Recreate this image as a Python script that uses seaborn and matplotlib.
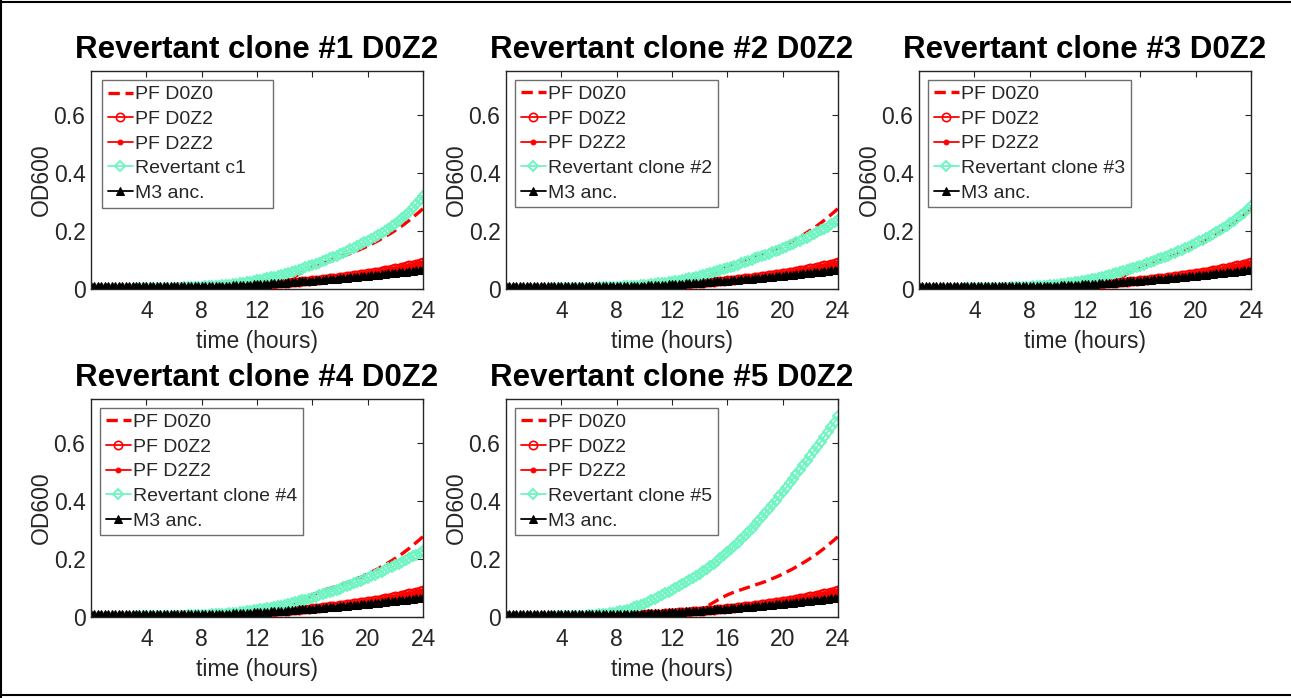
import numpy as np
import pandas as pd
import matplotlib
matplotlib.use("Agg")
import matplotlib.pyplot as plt
from matplotlib.lines import Line2D
import seaborn as sns

sns.set_style("white")
plt.rcParams['font.family'] = ['Liberation Sans', 'DejaVu Sans']

# time grid (hours), one reading every 15 minutes
time_h = np.arange(0, 24.001, 0.25)

pf_d0z0 = [0.003, 0.003, 0.003, 0.003, 0.003, 0.003, 0.003, 0.003, 0.003, 0.003, 0.003, 0.003, 0.003, 0.003, 0.003, 0.0032,
           0.0035, 0.0035, 0.0035, 0.0038, 0.004, 0.004, 0.004, 0.0042, 0.0045, 0.0045, 0.0045, 0.0048, 0.005, 0.0052, 0.0055, 0.0058,
           0.006, 0.0062, 0.0065, 0.0068, 0.007, 0.0072, 0.0075, 0.008, 0.0085, 0.009, 0.0095, 0.010, 0.0105, 0.0112, 0.012, 0.0128,
           0.0135, 0.0142, 0.015, 0.016, 0.017, 0.0185, 0.020, 0.023, 0.026, 0.031, 0.036, 0.043, 0.050, 0.057, 0.064, 0.070,
           0.076, 0.081, 0.086, 0.090, 0.094, 0.098, 0.102, 0.106, 0.110, 0.114, 0.118, 0.122, 0.127, 0.132, 0.137, 0.142,
           0.148, 0.154, 0.160, 0.166, 0.173, 0.180, 0.187, 0.194, 0.202, 0.210, 0.218, 0.227, 0.236, 0.246, 0.256, 0.266,
           0.277]
pf_d0z2 = [0.004, 0.004, 0.004, 0.004, 0.004, 0.004, 0.004, 0.004, 0.004, 0.004, 0.004, 0.004, 0.004, 0.004, 0.004, 0.004,
           0.0045, 0.0045, 0.0045, 0.0045, 0.0045, 0.0048, 0.005, 0.005, 0.005, 0.0052, 0.0055, 0.0055, 0.0055, 0.0058, 0.006, 0.0062,
           0.0065, 0.0068, 0.007, 0.0072, 0.0075, 0.0078, 0.008, 0.0085, 0.009, 0.0095, 0.010, 0.0105, 0.011, 0.0118, 0.0125, 0.0132,
           0.014, 0.0148, 0.0155, 0.0162, 0.017, 0.018, 0.019, 0.020, 0.021, 0.022, 0.023, 0.024, 0.025, 0.026, 0.0275, 0.0288,
           0.030, 0.0312, 0.0325, 0.0338, 0.035, 0.0365, 0.038, 0.0395, 0.041, 0.0425, 0.044, 0.0455, 0.047, 0.0488, 0.0505, 0.0522,
           0.054, 0.056, 0.058, 0.060, 0.062, 0.0642, 0.0665, 0.0688, 0.071, 0.0735, 0.076, 0.0785, 0.081, 0.084, 0.087, 0.090,
           0.093]
pf_d2z2 = [0.005, 0.005, 0.005, 0.005, 0.005, 0.005, 0.005, 0.005, 0.005, 0.005, 0.005, 0.005, 0.005, 0.005, 0.005, 0.005,
           0.005, 0.005, 0.005, 0.005, 0.0055, 0.0055, 0.0055, 0.0055, 0.006, 0.006, 0.006, 0.0062, 0.0065, 0.0068, 0.007, 0.0072,
           0.0075, 0.0078, 0.008, 0.0082, 0.0085, 0.0088, 0.009, 0.0095, 0.010, 0.0105, 0.011, 0.0115, 0.012, 0.0125, 0.013, 0.0138,
           0.0145, 0.0152, 0.016, 0.0168, 0.0175, 0.0185, 0.0195, 0.0205, 0.0215, 0.0225, 0.0235, 0.0245, 0.0255, 0.0268, 0.028, 0.0292,
           0.0305, 0.0318, 0.033, 0.0342, 0.0355, 0.037, 0.0385, 0.040, 0.0415, 0.043, 0.0445, 0.046, 0.0475, 0.0492, 0.051, 0.0528,
           0.0545, 0.0562, 0.058, 0.060, 0.062, 0.064, 0.066, 0.0682, 0.0705, 0.0728, 0.075, 0.0775, 0.080, 0.0828, 0.0855, 0.0882,
           0.091]
m3_anc = [0.009, 0.009, 0.009, 0.009, 0.009, 0.009, 0.009, 0.009, 0.009, 0.009, 0.009, 0.009, 0.009, 0.009, 0.009, 0.009,
          0.009, 0.009, 0.009, 0.009, 0.009, 0.009, 0.009, 0.009, 0.009, 0.009, 0.0095, 0.0095, 0.0095, 0.0098, 0.010, 0.010,
          0.010, 0.0102, 0.0105, 0.0108, 0.011, 0.0112, 0.0115, 0.0118, 0.012, 0.0125, 0.013, 0.0135, 0.014, 0.0145, 0.015, 0.0155,
          0.016, 0.0168, 0.0175, 0.0182, 0.019, 0.0198, 0.0205, 0.0212, 0.022, 0.023, 0.024, 0.025, 0.026, 0.0268, 0.0275, 0.0282,
          0.029, 0.030, 0.031, 0.032, 0.033, 0.034, 0.035, 0.036, 0.037, 0.038, 0.039, 0.0402, 0.0415, 0.0425, 0.0435, 0.0448,
          0.046, 0.0472, 0.0485, 0.0498, 0.051, 0.0522, 0.0535, 0.0548, 0.056, 0.0572, 0.0585, 0.060, 0.0615, 0.0628, 0.064, 0.0655,
          0.067]

rev_c1 = [0.001, 0.001, 0.001, 0.001, 0.001, 0.001, 0.001, 0.001, 0.001, 0.0011, 0.0012, 0.0013, 0.0015, 0.0016, 0.0018, 0.0019,
          0.002, 0.0022, 0.0025, 0.0028, 0.003, 0.0032, 0.0035, 0.0038, 0.004, 0.0045, 0.005, 0.0055, 0.006, 0.0065, 0.007, 0.0075,
          0.008, 0.0088, 0.0095, 0.0102, 0.011, 0.012, 0.013, 0.014, 0.015, 0.0165, 0.018, 0.0195, 0.021, 0.023, 0.025, 0.027,
          0.030, 0.0325, 0.035, 0.0375, 0.040, 0.043, 0.046, 0.049, 0.052, 0.0555, 0.059, 0.0625, 0.066, 0.070, 0.074, 0.078,
          0.082, 0.0865, 0.091, 0.0955, 0.100, 0.105, 0.110, 0.115, 0.120, 0.1255, 0.131, 0.1365, 0.142, 0.148, 0.154, 0.160,
          0.166, 0.1725, 0.179, 0.186, 0.193, 0.2005, 0.208, 0.2165, 0.225, 0.2345, 0.244, 0.2545, 0.265, 0.278, 0.291, 0.306,
          0.321]
rev_c2 = [0.001, 0.001, 0.001, 0.001, 0.001, 0.001, 0.001, 0.001, 0.001, 0.0011, 0.0012, 0.0013, 0.0015, 0.0016, 0.0018, 0.0019,
          0.002, 0.0022, 0.0025, 0.0028, 0.003, 0.0032, 0.0035, 0.0038, 0.004, 0.0044, 0.0048, 0.0052, 0.0056, 0.006, 0.0065, 0.007,
          0.0075, 0.0082, 0.0088, 0.0094, 0.010, 0.011, 0.012, 0.013, 0.014, 0.015, 0.016, 0.0175, 0.019, 0.0205, 0.022, 0.0235,
          0.025, 0.027, 0.029, 0.0315, 0.034, 0.0365, 0.039, 0.042, 0.045, 0.048, 0.051, 0.0545, 0.058, 0.0615, 0.065, 0.0685,
          0.072, 0.076, 0.080, 0.084, 0.088, 0.092, 0.096, 0.1005, 0.105, 0.109, 0.113, 0.1175, 0.122, 0.1265, 0.131, 0.1355,
          0.140, 0.145, 0.150, 0.155, 0.160, 0.1655, 0.171, 0.177, 0.183, 0.189, 0.195, 0.2015, 0.208, 0.215, 0.222, 0.230,
          0.238]
rev_c3 = [0.001, 0.001, 0.001, 0.001, 0.001, 0.001, 0.001, 0.001, 0.001, 0.0011, 0.0012, 0.0013, 0.0015, 0.0016, 0.0018, 0.0019,
          0.002, 0.0022, 0.0025, 0.0028, 0.003, 0.0032, 0.0035, 0.0038, 0.004, 0.0045, 0.005, 0.0055, 0.006, 0.0065, 0.007, 0.0075,
          0.008, 0.0088, 0.0095, 0.0102, 0.011, 0.012, 0.013, 0.014, 0.015, 0.0165, 0.018, 0.0195, 0.021, 0.023, 0.025, 0.027,
          0.029, 0.031, 0.033, 0.0355, 0.038, 0.041, 0.044, 0.047, 0.050, 0.0535, 0.057, 0.0605, 0.064, 0.068, 0.072, 0.076,
          0.080, 0.084, 0.088, 0.0925, 0.097, 0.1015, 0.106, 0.1105, 0.115, 0.120, 0.125, 0.130, 0.135, 0.1405, 0.146, 0.152,
          0.158, 0.164, 0.170, 0.1765, 0.183, 0.1895, 0.196, 0.203, 0.210, 0.218, 0.226, 0.2345, 0.243, 0.253, 0.263, 0.274,
          0.285]
rev_c4 = [0.001, 0.001, 0.001, 0.001, 0.001, 0.001, 0.001, 0.001, 0.001, 0.0011, 0.0012, 0.0013, 0.0015, 0.0016, 0.0018, 0.0019,
          0.002, 0.0022, 0.0025, 0.0028, 0.003, 0.0032, 0.0035, 0.0038, 0.004, 0.0043, 0.0047, 0.0051, 0.0055, 0.0059, 0.0063, 0.0068,
          0.0072, 0.0078, 0.0084, 0.009, 0.0097, 0.0103, 0.011, 0.012, 0.013, 0.014, 0.015, 0.0165, 0.018, 0.0195, 0.021, 0.0225,
          0.024, 0.026, 0.028, 0.030, 0.032, 0.0345, 0.037, 0.0395, 0.042, 0.045, 0.048, 0.051, 0.054, 0.057, 0.060, 0.063,
          0.066, 0.070, 0.074, 0.078, 0.082, 0.086, 0.090, 0.094, 0.098, 0.1025, 0.107, 0.1115, 0.116, 0.1205, 0.125, 0.130,
          0.135, 0.140, 0.145, 0.1505, 0.156, 0.1615, 0.167, 0.1725, 0.178, 0.184, 0.190, 0.196, 0.202, 0.2085, 0.215, 0.2215,
          0.228]
rev_c5 = [0.000, 0.000, 0.000, 0.000, 0.000, 0.000, 0.000, 0.0005, 0.001, 0.001, 0.001, 0.001, 0.001, 0.0012, 0.0015, 0.0018,
          0.002, 0.0022, 0.0025, 0.0028, 0.003, 0.0035, 0.004, 0.005, 0.006, 0.007, 0.008, 0.009, 0.010, 0.0115, 0.013, 0.015,
          0.017, 0.0195, 0.022, 0.0255, 0.029, 0.033, 0.037, 0.0415, 0.046, 0.0515, 0.057, 0.063, 0.069, 0.075, 0.081, 0.0875,
          0.094, 0.1005, 0.107, 0.1135, 0.120, 0.127, 0.134, 0.1415, 0.149, 0.1575, 0.166, 0.175, 0.184, 0.1935, 0.203, 0.213,
          0.223, 0.2335, 0.244, 0.2555, 0.267, 0.279, 0.291, 0.3035, 0.316, 0.3295, 0.343, 0.357, 0.371, 0.3855, 0.400, 0.415,
          0.430, 0.445, 0.460, 0.4755, 0.491, 0.5065, 0.522, 0.5375, 0.553, 0.5695, 0.586, 0.603, 0.620, 0.637, 0.654, 0.672,
          0.690]

titles = ["Revertant clone #1 D0Z2", "Revertant clone #2 D0Z2", "Revertant clone #3 D0Z2",
          "Revertant clone #4 D0Z2", "Revertant clone #5 D0Z2"]
rev_labels = ["Revertant c1", "Revertant clone #2", "Revertant clone #3",
              "Revertant clone #4", "Revertant clone #5"]
rev_series = [rev_c1, rev_c2, rev_c3, rev_c4, rev_c5]
x_ticks = [4, 8, 12, 16, 20, 24]
y_ticks = [0, 0.2, 0.4, 0.6]
y_ticklabels = ["0", "0.2", "0.4", "0.6"]

RED = "#ff0000"
GREEN = "#6ff5c1"
BLACK = "#000000"
AXC = "#262626"

W, H = 1291, 698
fig = plt.figure(figsize=(W / 100, H / 100), dpi=100)
fig.patch.set_facecolor("white")

col_left = [91, 506, 919]
row_bottom = [289, 617]
aw, ah = 332, 218

positions = [(0, 0), (0, 1), (0, 2), (1, 0), (1, 1)]
for k, (r, c) in enumerate(positions):
    ax = fig.add_axes([col_left[c] / W, 1 - row_bottom[r] / H, aw / W, ah / H])
    common = dict(ax=ax, sort=False, errorbar=None)
    sns.lineplot(x=time_h, y=pf_d0z0, color=RED, linestyle=(0, (3.4, 1.7)), linewidth=2.4,
                 label="PF D0Z0", **common)
    sns.lineplot(x=time_h, y=pf_d0z2, color=RED, linewidth=1.3, marker="o", markersize=6,
                 markerfacecolor="none", markeredgecolor=RED, markeredgewidth=1.2,
                 label="PF D0Z2", **common)
    sns.lineplot(x=time_h, y=pf_d2z2, color=RED, linewidth=1.3, marker="o", markersize=3.5,
                 markerfacecolor=RED, markeredgecolor=RED, label="PF D2Z2", **common)
    sns.lineplot(x=time_h, y=rev_series[k], color=GREEN, linewidth=1.3, marker="D", markersize=5.5,
                 markerfacecolor="none", markeredgecolor=GREEN, markeredgewidth=1.4,
                 label=rev_labels[k], **common)
    sns.lineplot(x=time_h, y=m3_anc, color=BLACK, linewidth=1.3, marker="^", markersize=6,
                 markerfacecolor=BLACK, markeredgecolor=BLACK, label="M3 anc.", **common)

    ax.set_xlim(0, 24)
    ax.set_ylim(0, 0.75)
    ax.set_xticks(x_ticks)
    ax.set_yticks(y_ticks)
    ax.set_yticklabels(y_ticklabels)
    ax.tick_params(direction="in", top=True, right=True, length=4, width=0.8,
                   labelsize=16.5, colors=AXC, labelcolor=AXC, pad=4)
    ax.tick_params(axis="x", pad=8)
    for s in ax.spines.values():
        s.set_visible(True)
        s.set_color(AXC)
        s.set_linewidth(1.0)
    ax.set_xlabel("time (hours)", fontsize=16.5, color=AXC, labelpad=5)
    ax.set_ylabel("OD600", fontsize=16.5, color=AXC)
    ax.yaxis.set_label_coords(-38 / aw, 0.5)
    ax.set_title(titles[k], fontsize=22.5, fontweight="bold", color="black", pad=9)
    leg_kw = dict(fontsize=14, frameon=True, fancybox=False, edgecolor="#6e6e6e",
                  framealpha=1, handlelength=1.3, handletextpad=0.12,
                  labelspacing=0.36, borderpad=0.3)
    if k == 0:
        # first panel's legend box is wider than its text
        leg = ax.legend(loc="upper left", bbox_to_anchor=(11 / aw, 1 - 9 / ah, 171 / aw, 0),
                        mode="expand", borderaxespad=0, **leg_kw)
    else:
        leg = ax.legend(loc="upper left", borderaxespad=0.45, **leg_kw)
    leg.get_frame().set_linewidth(1.0)

# outer figure border (left, top, bottom)
fig.add_artist(Line2D([1.5 / W, 1.5 / W], [0, 1], transform=fig.transFigure, color="black", lw=1.5))
fig.add_artist(Line2D([0, 1], [1 - 1.5 / H, 1 - 1.5 / H], transform=fig.transFigure, color="black", lw=1.5))
fig.add_artist(Line2D([0, 1], [1 - 695 / H, 1 - 695 / H], transform=fig.transFigure, color="black", lw=1.5))

fig.savefig("out.png", dpi=100, facecolor="white")
